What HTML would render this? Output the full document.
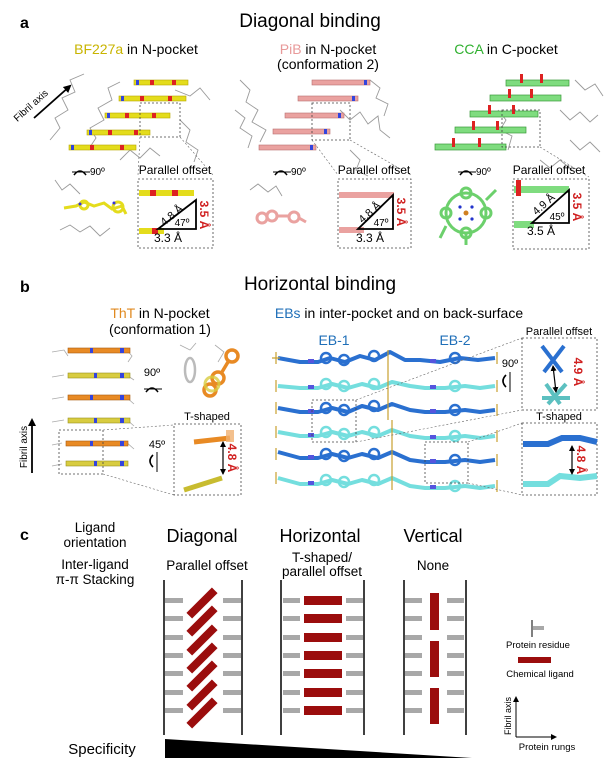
<!DOCTYPE html>
<html><head><meta charset="utf-8"><style>
html,body{margin:0;padding:0;background:#fff}
svg{display:block}
text{font-family:"Liberation Sans",sans-serif}
</style></head><body>
<svg width="608" height="779" viewBox="0 0 608 779" xmlns="http://www.w3.org/2000/svg">
<defs>
<marker id="ah" markerWidth="8" markerHeight="8" refX="6" refY="4" orient="auto" markerUnits="userSpaceOnUse"><path d="M0,0 L8,4 L0,8 z" fill="#000"/></marker>
<marker id="ah2" markerWidth="6" markerHeight="6" refX="5" refY="3" orient="auto-start-reverse" markerUnits="userSpaceOnUse"><path d="M0,0 L6,3 L0,6 z" fill="#000"/></marker>
</defs>

<!-- ============ PANEL A ============ -->
<text x="20" y="28" font-size="16" font-weight="bold">a</text>
<text x="310" y="27" font-size="19" text-anchor="middle">Diagonal binding</text>
<text x="136" y="54" font-size="14" text-anchor="middle"><tspan fill="#c8b400">BF227a</tspan> in N-pocket</text>
<text x="328" y="54" font-size="14" text-anchor="middle"><tspan fill="#e89a9a">PiB</tspan> in N-pocket</text>
<text x="328" y="69" font-size="14" text-anchor="middle">(conformation 2)</text>
<text x="506" y="54" font-size="14" text-anchor="middle"><tspan fill="#2fb02f">CCA</tspan> in C-pocket</text>

<g stroke="#9a9a9a" stroke-width="0.9" fill="none">
<polyline points="50,140 60,128 55,118 68,110 62,98 75,92 70,80 84,74"/>
<polyline points="88,150 96,138 90,128 104,120 98,108 112,100 108,88 120,82"/>
<polyline points="120,160 130,150 140,158 150,148 160,156"/>
<polyline points="180,120 190,130 186,142 198,150 194,162"/>
<polyline points="175,90 190,96 200,88 210,100"/>
<polyline points="60,230 70,225 80,232 90,226 100,236 110,228"/>
<polyline points="55,180 62,190 70,184 80,194"/>
<polyline points="240,80 250,90 246,102 258,110 252,122 266,130 260,142"/>
<polyline points="235,110 245,118 240,128 252,136 248,148"/>
<polyline points="340,110 350,120 360,112 368,124 378,116 380,130 390,138"/>
<polyline points="370,80 380,88 376,98 388,104 384,116"/>
<polyline points="350,150 360,160 356,170 368,176"/>
<polyline points="250,190 258,184 268,192 276,186 282,196"/>
<polyline points="498,110 506,120 500,130 512,136 508,150"/>
<polyline points="560,110 570,120 580,112 590,122 598,115"/>
<polyline points="570,140 580,150 590,142 600,152"/>
<polyline points="540,160 550,168 560,160 572,170"/>
<polyline points="575,80 585,90 595,84 603,96"/>
</g>

<g>
<rect x="134" y="80" width="54" height="5" fill="#e4dc1c" stroke="#b8a800" stroke-width="0.6"/>
<rect x="119" y="96" width="67" height="5" fill="#e4dc1c" stroke="#b8a800" stroke-width="0.6"/>
<rect x="105" y="113" width="65" height="5" fill="#e4dc1c" stroke="#b8a800" stroke-width="0.6"/>
<rect x="87" y="130" width="63" height="5" fill="#e4dc1c" stroke="#b8a800" stroke-width="0.6"/>
<rect x="69" y="145" width="67" height="5" fill="#e4dc1c" stroke="#b8a800" stroke-width="0.6"/>
<g fill="#d22">
<rect x="150" y="80" width="4" height="5"/><rect x="172" y="80" width="4" height="5"/>
<rect x="140" y="96" width="4" height="5"/><rect x="168" y="96" width="4" height="5"/>
<rect x="125" y="113" width="4" height="5"/><rect x="152" y="113" width="4" height="5"/>
<rect x="108" y="130" width="4" height="5"/><rect x="134" y="130" width="4" height="5"/>
<rect x="90" y="145" width="4" height="5"/><rect x="120" y="145" width="4" height="5"/>
</g>
<g fill="#3344dd"><rect x="136" y="80" width="3" height="5"/><rect x="121" y="96" width="3" height="5"/><rect x="107" y="113" width="3" height="5"/><rect x="89" y="130" width="3" height="5"/><rect x="71" y="145" width="3" height="5"/></g>
</g>
<line x1="34" y1="118" x2="70" y2="86" stroke="#000" stroke-width="1.8" marker-end="url(#ah)"/>
<text x="0" y="0" font-size="10" transform="translate(33,108) rotate(-42)" text-anchor="middle">Fibril axis</text>
<rect x="140" y="103" width="40" height="34" fill="none" stroke="#444" stroke-width="0.8" stroke-dasharray="2,2"/>
<line x1="140" y1="137" x2="138" y2="175" stroke="#666" stroke-width="0.6" stroke-dasharray="2,2"/>
<line x1="180" y1="137" x2="213" y2="175" stroke="#666" stroke-width="0.6" stroke-dasharray="2,2"/>
<path d="M74,175 q6,-8 12,0" fill="none" stroke="#000" stroke-width="1.6"/><line x1="72" y1="172" x2="90" y2="172" stroke="#000" stroke-width="1"/>
<text x="90" y="175" font-size="10">90º</text>
<text x="175" y="174" font-size="12" text-anchor="middle">Parallel offset</text>
<rect x="138" y="179" width="75" height="69" fill="#fff" stroke="#444" stroke-width="0.8" stroke-dasharray="2,2"/>
<rect x="139" y="190" width="55" height="6" fill="#e4dc1c"/><rect x="150" y="190" width="6" height="6" fill="#d22"/><rect x="172" y="190" width="6" height="6" fill="#d22"/>
<rect x="139" y="228" width="25" height="6" fill="#e4dc1c"/><rect x="152" y="228" width="6" height="6" fill="#d22"/>
<path d="M158,229 L196,229 L196,200 Z" fill="none" stroke="#000" stroke-width="1.8"/>
<text font-size="11" transform="translate(174,218) rotate(-40)" text-anchor="middle">4.8 Å</text>
<text x="182" y="226" font-size="10" text-anchor="middle">47º</text>
<text x="168" y="242" font-size="12" text-anchor="middle">3.3 Å</text>
<text font-size="12" fill="#d02020" font-weight="bold" transform="translate(200,215) rotate(90)" text-anchor="middle">3.5 Å</text>
<g stroke="#e4dc1c" stroke-width="3" fill="none"><polyline points="64,208 76,206 84,202 94,206 104,203 112,209 122,206 126,214"/><circle cx="84" cy="205" r="4"/><circle cx="118" cy="207" r="5"/></g>
<circle cx="80" cy="204" r="1.5" fill="#33d"/><circle cx="114" cy="203" r="1.5" fill="#33d"/>

<g fill="#eaa2a0" stroke="#b87070" stroke-width="0.6">
<rect x="312" y="80" width="58" height="5"/><rect x="298" y="96" width="60" height="5"/><rect x="285" y="113" width="59" height="5"/><rect x="273" y="129" width="57" height="5"/><rect x="259" y="145" width="57" height="5"/>
</g>
<g fill="#3344dd"><rect x="364" y="80" width="3" height="5"/><rect x="352" y="96" width="3" height="5"/><rect x="338" y="113" width="3" height="5"/><rect x="324" y="129" width="3" height="5"/><rect x="310" y="145" width="3" height="5"/></g>
<rect x="312" y="103" width="38" height="37" fill="none" stroke="#444" stroke-width="0.8" stroke-dasharray="2,2"/>
<line x1="312" y1="140" x2="338" y2="175" stroke="#666" stroke-width="0.6" stroke-dasharray="2,2"/>
<line x1="350" y1="140" x2="411" y2="175" stroke="#666" stroke-width="0.6" stroke-dasharray="2,2"/>
<path d="M275,175 q6,-8 12,0" fill="none" stroke="#000" stroke-width="1.6"/><line x1="273" y1="172" x2="291" y2="172" stroke="#000" stroke-width="1"/>
<text x="291" y="175" font-size="10">90º</text>
<text x="374" y="174" font-size="12" text-anchor="middle">Parallel offset</text>
<rect x="338" y="179" width="73" height="69" fill="#fff" stroke="#444" stroke-width="0.8" stroke-dasharray="2,2"/>
<rect x="339" y="192" width="55" height="6" fill="#eaa2a0"/>
<rect x="339" y="227" width="25" height="6" fill="#eaa2a0"/>
<path d="M358,229 L393,229 L393,195 Z" fill="none" stroke="#000" stroke-width="1.8"/>
<text font-size="11" transform="translate(372,215) rotate(-42)" text-anchor="middle">4.8 Å</text>
<text x="381" y="226" font-size="10" text-anchor="middle">47º</text>
<text x="370" y="242" font-size="12" text-anchor="middle">3.3 Å</text>
<text font-size="12" fill="#d02020" font-weight="bold" transform="translate(397,212) rotate(90)" text-anchor="middle">3.5 Å</text>
<g stroke="#eaa2a0" stroke-width="3" fill="none"><circle cx="262" cy="218" r="5"/><circle cx="272" cy="216" r="5"/><line x1="277" y1="216" x2="290" y2="216"/><circle cx="294" cy="217" r="5"/><line x1="299" y1="218" x2="306" y2="222"/></g>

<g fill="#7fdc7f" stroke="#3a9a3a" stroke-width="0.7">
<rect x="506" y="80" width="63" height="6"/><rect x="490" y="95" width="71" height="6"/><rect x="470" y="111" width="68" height="6"/><rect x="455" y="127" width="71" height="6"/><rect x="435" y="144" width="71" height="6"/>
</g>
<g fill="#dd2222">
<rect x="520" y="74" width="3" height="9"/><rect x="540" y="74" width="3" height="9"/><rect x="508" y="89" width="3" height="9"/><rect x="530" y="89" width="3" height="9"/><rect x="488" y="105" width="3" height="9"/><rect x="512" y="105" width="3" height="9"/><rect x="472" y="121" width="3" height="9"/><rect x="496" y="121" width="3" height="9"/><rect x="452" y="138" width="3" height="9"/><rect x="478" y="138" width="3" height="9"/>
</g>
<rect x="502" y="110" width="38" height="37" fill="none" stroke="#444" stroke-width="0.8" stroke-dasharray="2,2"/>
<line x1="540" y1="147" x2="589" y2="177" stroke="#666" stroke-width="0.6" stroke-dasharray="2,2"/>
<path d="M460,175 q6,-8 12,0" fill="none" stroke="#000" stroke-width="1.6"/><line x1="458" y1="172" x2="476" y2="172" stroke="#000" stroke-width="1"/>
<text x="476" y="175" font-size="10">90º</text>
<text x="549" y="174" font-size="12" text-anchor="middle">Parallel offset</text>
<rect x="513" y="179" width="76" height="70" fill="#fff" stroke="#444" stroke-width="0.8" stroke-dasharray="2,2"/>
<rect x="514" y="186" width="55" height="7" fill="#7fdc7f"/><rect x="516" y="180" width="5" height="16" fill="#dd2222"/>
<rect x="514" y="221" width="20" height="7" fill="#7fdc7f"/>
<path d="M532,223 L569,223 L569,190 Z" fill="none" stroke="#000" stroke-width="1.8"/>
<text font-size="11" transform="translate(546,207) rotate(-42)" text-anchor="middle">4.9 Å</text>
<text x="557" y="220" font-size="10" text-anchor="middle">45º</text>
<text x="541" y="235" font-size="12" text-anchor="middle">3.5 Å</text>
<text font-size="12" fill="#d02020" font-weight="bold" transform="translate(573,207) rotate(90)" text-anchor="middle">3.5 Å</text>
<g stroke="#6cd06c" stroke-width="3" fill="none">
<circle cx="466" cy="213" r="20"/><circle cx="466" cy="193" r="5"/><circle cx="466" cy="233" r="5"/><circle cx="446" cy="213" r="5"/><circle cx="486" cy="213" r="5"/>
<line x1="466" y1="233" x2="466" y2="245"/><line x1="486" y1="200" x2="496" y2="190"/><line x1="446" y1="226" x2="440" y2="238"/>
</g>
<circle cx="466" cy="213" r="2.5" fill="#d08020"/>
<g fill="#2233cc"><circle cx="460" cy="207" r="1.6"/><circle cx="472" cy="207" r="1.6"/><circle cx="460" cy="219" r="1.6"/><circle cx="472" cy="219" r="1.6"/></g>

<!-- ============ PANEL B ============ -->
<text x="20" y="292" font-size="16" font-weight="bold">b</text>
<text x="320" y="290" font-size="19" text-anchor="middle">Horizontal binding</text>
<text x="160" y="318" font-size="14" text-anchor="middle"><tspan fill="#e08a20">ThT</tspan> in N-pocket</text>
<text x="160" y="334" font-size="14" text-anchor="middle">(conformation 1)</text>
<text x="399" y="318" font-size="14" text-anchor="middle"><tspan fill="#1f6fb8">EBs</tspan> in inter-pocket and on back-surface</text>
<text x="334" y="345" font-size="14" fill="#1f6fb8" text-anchor="middle">EB-1</text>
<text x="455" y="345" font-size="14" fill="#1f6fb8" text-anchor="middle">EB-2</text>

<g stroke="#aaa" stroke-width="0.8" fill="none">
<polyline points="52,352 64,350 68,356"/><polyline points="52,377 64,375"/><polyline points="52,399 64,397"/><polyline points="52,422 64,420"/><polyline points="52,445 62,443"/><polyline points="52,466 62,464"/>
<polyline points="125,348 132,356 128,362"/><polyline points="125,374 134,380"/><polyline points="125,396 134,404"/><polyline points="125,418 134,426"/><polyline points="125,441 134,449"/>
<polyline points="180,345 190,350 196,343"/><polyline points="215,345 224,352 218,362"/>
<polyline points="182,440 190,460 185,480"/>
</g>
<g stroke-width="0.6">
<rect x="68" y="348" width="62" height="5" fill="#e88a24" stroke="#a85a10"/>
<rect x="68" y="373" width="62" height="5" fill="#d8cc40" stroke="#9a9020"/>
<rect x="68" y="395" width="62" height="5" fill="#e88a24" stroke="#a85a10"/>
<rect x="68" y="418" width="62" height="5" fill="#d8cc40" stroke="#9a9020"/>
<rect x="66" y="441" width="62" height="5" fill="#e88a24" stroke="#a85a10"/>
<rect x="66" y="461" width="62" height="5" fill="#d8cc40" stroke="#9a9020"/>
</g>
<g fill="#3344dd"><rect x="90" y="348" width="3" height="5"/><rect x="120" y="348" width="4" height="5"/><rect x="94" y="373" width="3" height="5"/><rect x="120" y="373" width="4" height="5"/><rect x="90" y="395" width="3" height="5"/><rect x="120" y="395" width="4" height="5"/><rect x="94" y="418" width="3" height="5"/><rect x="120" y="418" width="4" height="5"/><rect x="90" y="441" width="3" height="5"/><rect x="120" y="441" width="4" height="5"/><rect x="94" y="461" width="3" height="5"/><rect x="120" y="461" width="4" height="5"/></g>
<line x1="32" y1="473" x2="32" y2="420" stroke="#000" stroke-width="1.8" marker-end="url(#ah)"/>
<text font-size="10" transform="translate(27,447) rotate(-90)" text-anchor="middle">Fibril axis</text>
<text x="152" y="376" font-size="11" text-anchor="middle">90º</text>
<path d="M146,392 q6,-8 12,0" fill="none" stroke="#000" stroke-width="1.6"/><line x1="144" y1="389" x2="162" y2="389" stroke="#000" stroke-width="1"/>
<g stroke="#e88a24" stroke-width="3.5" fill="none"><circle cx="232" cy="356" r="6"/><line x1="228" y1="362" x2="222" y2="372"/><circle cx="218" cy="378" r="6"/><circle cx="210" cy="390" r="6"/></g>
<g stroke="#d8cc40" stroke-width="3" fill="none" opacity="0.8"><circle cx="212" cy="384" r="7"/></g>
<g stroke="#bbb" stroke-width="2.5" fill="none"><ellipse cx="190" cy="370" rx="5" ry="12"/></g>
<rect x="59" y="430" width="44" height="44" fill="none" stroke="#444" stroke-width="0.8" stroke-dasharray="2,2"/>
<line x1="103" y1="430" x2="174" y2="425" stroke="#666" stroke-width="0.6" stroke-dasharray="2,2"/>
<line x1="103" y1="474" x2="174" y2="495" stroke="#666" stroke-width="0.6" stroke-dasharray="2,2"/>
<text x="157" y="448" font-size="11" text-anchor="middle">45º</text>
<path d="M153,455 q-6,6 0,12" fill="none" stroke="#000" stroke-width="1.6"/><line x1="157" y1="452" x2="157" y2="472" stroke="#000" stroke-width="1"/>
<text x="207" y="420" font-size="11" text-anchor="middle">T-shaped</text>
<rect x="174" y="424" width="67" height="71" fill="#fff" stroke="#444" stroke-width="0.8" stroke-dasharray="2,2"/>
<line x1="194" y1="442" x2="230" y2="438" stroke="#e88a24" stroke-width="5"/>
<line x1="184" y1="490" x2="222" y2="478" stroke="#c8bc30" stroke-width="5"/>
<rect x="226" y="430" width="8" height="12" fill="#f0b070" opacity="0.8"/>
<line x1="223" y1="442" x2="223" y2="474" stroke="#000" stroke-width="1.2" marker-start="url(#ah2)" marker-end="url(#ah2)"/>
<text font-size="12" fill="#d02020" font-weight="bold" transform="translate(228,458) rotate(90)" text-anchor="middle">4.8 Å</text>

<g fill="none" stroke-linejoin="round">
<g stroke="#2a70d0" stroke-width="4"><polyline points="278,358 300,362 318,362 330,358 345,362 360,356 375,360 390,352 405,360 420,360 440,362 460,358 478,360 495,358"/></g>
<g stroke="#74dede" stroke-width="4"><polyline points="278,386 300,388 318,388 332,384 348,388 362,384 378,388 392,382 410,386 425,388 445,388 465,386 480,388 495,386"/></g>
<g stroke="#2a70d0" stroke-width="4"><polyline points="278,408 300,412 318,412 332,408 348,412 362,406 378,410 392,404 410,410 425,412 445,412 465,410 480,412 495,410"/></g>
<g stroke="#74dede" stroke-width="4"><polyline points="278,432 300,436 318,436 332,432 348,436 362,432 378,436 392,430 410,436 425,438 445,438 465,436 480,438 495,436"/></g>
<g stroke="#2a70d0" stroke-width="4"><polyline points="278,452 300,458 318,458 332,454 348,458 362,454 378,458 392,452 410,460 425,462 445,462 465,460 480,462 495,460"/></g>
<g stroke="#74dede" stroke-width="4"><polyline points="278,478 300,484 318,484 332,480 348,484 362,480 378,484 392,478 410,486 425,488 445,488 465,486 480,488 495,486"/></g>
<g stroke="#2a70d0" stroke-width="2.5">
<circle cx="326" cy="358" r="5"/><circle cx="344" cy="360" r="5"/><circle cx="374" cy="356" r="5"/><circle cx="455" cy="358" r="5"/>
<circle cx="326" cy="408" r="5"/><circle cx="344" cy="410" r="5"/><circle cx="374" cy="406" r="5"/><circle cx="455" cy="410" r="5"/>
<circle cx="326" cy="454" r="5"/><circle cx="344" cy="456" r="5"/><circle cx="374" cy="454" r="5"/><circle cx="455" cy="460" r="5"/>
</g>
<g stroke="#74dede" stroke-width="2.5">
<circle cx="326" cy="384" r="5"/><circle cx="344" cy="386" r="5"/><circle cx="374" cy="384" r="5"/><circle cx="455" cy="386" r="5"/>
<circle cx="326" cy="432" r="5"/><circle cx="344" cy="434" r="5"/><circle cx="374" cy="432" r="5"/><circle cx="455" cy="436" r="5"/>
<circle cx="326" cy="480" r="5"/><circle cx="344" cy="482" r="5"/><circle cx="374" cy="480" r="5"/><circle cx="455" cy="486" r="5"/>
</g>
<g stroke="#c8a030" stroke-width="1.2"><path d="M276,352 v12 M272,358 h8 M276,380 v12 M276,402 v12 M276,426 v12 M276,448 v12 M276,472 v12 M497,352 v12 M497,380 v12 M497,404 v12 M497,430 v12 M497,454 v12 M497,480 v12 M388,350 v70 M392,420 v70"/></g>
<g stroke="#5555dd" stroke-width="4"><path d="M308,361 h6 M308,387 h6 M308,411 h6 M308,435 h6 M308,457 h6 M308,483 h6 M430,361 h6 M430,387 h6 M430,411 h6 M430,437 h6 M430,461 h6 M430,487 h6"/></g>
</g>
<rect x="312" y="400" width="44" height="42" fill="none" stroke="#444" stroke-width="0.8" stroke-dasharray="2,2"/>
<rect x="425" y="442" width="43" height="41" fill="none" stroke="#444" stroke-width="0.8" stroke-dasharray="2,2"/>
<line x1="356" y1="400" x2="522" y2="338" stroke="#666" stroke-width="0.6" stroke-dasharray="2,2"/>
<line x1="356" y1="442" x2="522" y2="410" stroke="#666" stroke-width="0.6" stroke-dasharray="2,2"/>
<line x1="468" y1="442" x2="522" y2="423" stroke="#666" stroke-width="0.6" stroke-dasharray="2,2"/>
<line x1="468" y1="483" x2="522" y2="495" stroke="#666" stroke-width="0.6" stroke-dasharray="2,2"/>
<text x="510" y="367" font-size="11" text-anchor="middle">90º</text>
<path d="M506,375 q-6,6 0,12" fill="none" stroke="#000" stroke-width="1.6"/><line x1="510" y1="372" x2="510" y2="392" stroke="#000" stroke-width="1"/>
<text x="559" y="335" font-size="11" text-anchor="middle">Parallel offset</text>
<rect x="522" y="338" width="75" height="72" fill="#fff" stroke="#444" stroke-width="0.8" stroke-dasharray="2,2"/>
<g stroke="#2a70d0" stroke-width="4"><line x1="542" y1="346" x2="562" y2="372"/><line x1="564" y1="346" x2="544" y2="372"/></g>
<g stroke="#5cc0c0" stroke-width="4"><line x1="546" y1="384" x2="560" y2="404"/><line x1="566" y1="384" x2="548" y2="404"/><line x1="542" y1="398" x2="570" y2="398"/></g>
<line x1="553" y1="366" x2="556" y2="392" stroke="#000" stroke-width="1.2" marker-start="url(#ah2)" marker-end="url(#ah2)"/>
<text font-size="12" fill="#d02020" font-weight="bold" transform="translate(574,372) rotate(90)" text-anchor="middle">4.9 Å</text>
<text x="559" y="420" font-size="11" text-anchor="middle">T-shaped</text>
<rect x="522" y="423" width="75" height="72" fill="#fff" stroke="#444" stroke-width="0.8" stroke-dasharray="2,2"/>
<path d="M523,444 L548,444 L562,438 L580,438 L597,442" fill="none" stroke="#2a70d0" stroke-width="6"/>
<path d="M523,484 L548,484 L560,476 L580,478 L597,476" fill="none" stroke="#74dede" stroke-width="6"/>
<line x1="572" y1="446" x2="572" y2="474" stroke="#000" stroke-width="1.2" marker-start="url(#ah2)" marker-end="url(#ah2)"/>
<text font-size="12" fill="#d02020" font-weight="bold" transform="translate(577,460) rotate(90)" text-anchor="middle">4.8 Å</text>

<!-- ============ PANEL C ============ -->
<text x="20" y="540" font-size="16" font-weight="bold">c</text>
<text x="95" y="532" font-size="13.5" text-anchor="middle">Ligand</text>
<text x="95" y="547" font-size="13.5" text-anchor="middle">orientation</text>
<text x="95" y="569" font-size="13.5" text-anchor="middle">Inter-ligand</text>
<text x="95" y="584" font-size="13.5" text-anchor="middle">π-π Stacking</text>
<text x="202" y="542" font-size="18" text-anchor="middle">Diagonal</text>
<text x="320" y="542" font-size="18" text-anchor="middle">Horizontal</text>
<text x="433" y="542" font-size="18" text-anchor="middle">Vertical</text>
<text x="207" y="570" font-size="13.5" text-anchor="middle">Parallel offset</text>
<text x="322" y="562" font-size="13.5" text-anchor="middle">T-shaped/</text>
<text x="322" y="576" font-size="13.5" text-anchor="middle">parallel offset</text>
<text x="433" y="570" font-size="13.5" text-anchor="middle">None</text>

<g stroke="#000" stroke-width="1.5">
<line x1="164" y1="580" x2="164" y2="735"/><line x1="242" y1="580" x2="242" y2="735"/>
<line x1="281" y1="580" x2="281" y2="735"/><line x1="364" y1="580" x2="364" y2="735"/>
<line x1="404" y1="580" x2="404" y2="735"/><line x1="466" y1="580" x2="466" y2="735"/>
</g>
<g fill="#a8a8a8">
<rect x="165" y="598" width="18" height="5"/><rect x="223" y="598" width="18" height="5"/><rect x="283" y="598" width="17" height="5"/><rect x="346" y="598" width="17" height="5"/><rect x="405" y="598" width="17" height="5"/><rect x="447" y="598" width="17" height="5"/>
<rect x="165" y="616" width="18" height="5"/><rect x="223" y="616" width="18" height="5"/><rect x="283" y="616" width="17" height="5"/><rect x="346" y="616" width="17" height="5"/><rect x="405" y="616" width="17" height="5"/><rect x="447" y="616" width="17" height="5"/>
<rect x="165" y="635" width="18" height="5"/><rect x="223" y="635" width="18" height="5"/><rect x="283" y="635" width="17" height="5"/><rect x="346" y="635" width="17" height="5"/><rect x="405" y="635" width="17" height="5"/><rect x="447" y="635" width="17" height="5"/>
<rect x="165" y="653" width="18" height="5"/><rect x="223" y="653" width="18" height="5"/><rect x="283" y="653" width="17" height="5"/><rect x="346" y="653" width="17" height="5"/><rect x="405" y="653" width="17" height="5"/><rect x="447" y="653" width="17" height="5"/>
<rect x="165" y="671" width="18" height="5"/><rect x="223" y="671" width="18" height="5"/><rect x="283" y="671" width="17" height="5"/><rect x="346" y="671" width="17" height="5"/><rect x="405" y="671" width="17" height="5"/><rect x="447" y="671" width="17" height="5"/>
<rect x="165" y="690" width="18" height="5"/><rect x="223" y="690" width="18" height="5"/><rect x="283" y="690" width="17" height="5"/><rect x="346" y="690" width="17" height="5"/><rect x="405" y="690" width="17" height="5"/><rect x="447" y="690" width="17" height="5"/>
<rect x="165" y="708" width="18" height="5"/><rect x="223" y="708" width="18" height="5"/><rect x="283" y="708" width="17" height="5"/><rect x="346" y="708" width="17" height="5"/><rect x="405" y="708" width="17" height="5"/><rect x="447" y="708" width="17" height="5"/>
</g>
<g fill="#9b0d0d">
<rect x="-18" y="-4" width="36" height="8" transform="translate(202,603) rotate(-45)"/>
<rect x="-18" y="-4" width="36" height="8" transform="translate(202,621) rotate(-45)"/>
<rect x="-18" y="-4" width="36" height="8" transform="translate(202,640) rotate(-45)"/>
<rect x="-18" y="-4" width="36" height="8" transform="translate(202,658) rotate(-45)"/>
<rect x="-18" y="-4" width="36" height="8" transform="translate(202,676) rotate(-45)"/>
<rect x="-18" y="-4" width="36" height="8" transform="translate(202,695) rotate(-45)"/>
<rect x="-18" y="-4" width="36" height="8" transform="translate(202,713) rotate(-45)"/>
<rect x="304" y="596" width="38" height="9"/><rect x="304" y="614" width="38" height="9"/><rect x="304" y="633" width="38" height="9"/><rect x="304" y="651" width="38" height="9"/><rect x="304" y="669" width="38" height="9"/><rect x="304" y="688" width="38" height="9"/><rect x="304" y="706" width="38" height="9"/>
<rect x="430" y="593" width="9" height="37"/><rect x="430" y="641" width="9" height="36"/><rect x="430" y="688" width="9" height="36"/>
</g>
<polygon points="165,739 472,758 165,758" fill="#000"/>
<text x="102" y="754" font-size="15" text-anchor="middle">Specificity</text>

<line x1="532" y1="620" x2="532" y2="637" stroke="#000" stroke-width="1"/>
<rect x="533" y="626" width="11" height="4" fill="#a8a8a8"/>
<text x="538" y="648" font-size="9.5" text-anchor="middle">Protein residue</text>
<rect x="518" y="657" width="33" height="6" fill="#9b0d0d"/>
<text x="540" y="677" font-size="9.5" text-anchor="middle">Chemical ligand</text>
<line x1="516" y1="737" x2="516" y2="697" stroke="#000" stroke-width="1" marker-end="url(#ah2)"/>
<line x1="516" y1="737" x2="556" y2="737" stroke="#000" stroke-width="1" marker-end="url(#ah2)"/>
<text font-size="9" transform="translate(511,716) rotate(-90)" text-anchor="middle">Fibril axis</text>
<text x="547" y="750" font-size="9.5" text-anchor="middle">Protein rungs</text>
</svg>
</body></html>
